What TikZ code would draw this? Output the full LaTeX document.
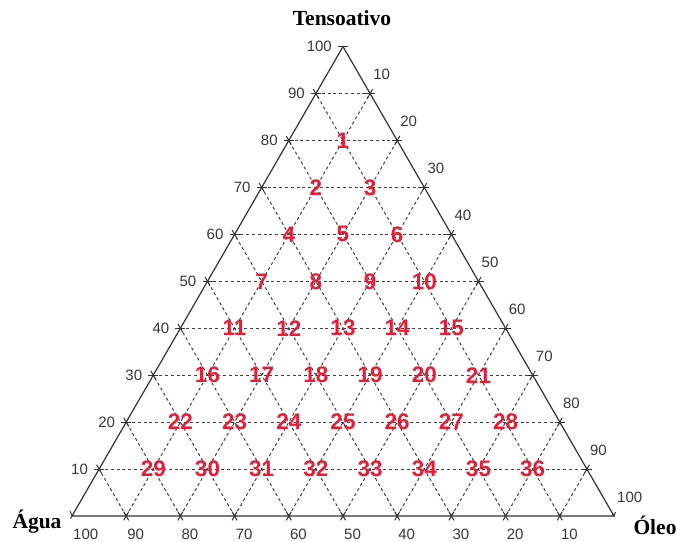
\documentclass[tikz,border=0pt]{standalone}
\usepackage{fontspec}
\setmainfont{Liberation Sans}
\newfontfamily\serifb{Liberation Serif}
\definecolor{numred}{RGB}{232,28,52}
\definecolor{axgray}{RGB}{55,55,55}
\begin{document}
\begin{tikzpicture}[x=1pt,y=-1pt,
  grid/.style={dash pattern=on 3pt off 2.8pt, line width=1pt, draw=black!75},
  side/.style={line width=1.2pt, draw=black!80},
  tk/.style={line width=1pt, draw=black!80},
  axlbl/.style={font=\fontsize{15}{17}\selectfont, text=axgray, inner sep=0pt},
  num/.style={font=\fontsize{22.5}{24}\selectfont\bfseries, text=numred, inner sep=0pt},
  vlbl/.style={font=\serifb\fontsize{21.5}{23}\selectfont\bfseries, inner sep=0pt}]
\useasboundingbox (0,0) rectangle (676,541);
% grid
\foreach \k in {10,20,...,90} {
  \pgfmathsetmacro\m{100-\k}
  \pgfmathsetmacro\Lx{72+5.42*(\k/2)}
  \pgfmathsetmacro\Ly{516-4.694*\k}
  \pgfmathsetmacro\Rx{72+5.42*(\m+\k/2)}
  \pgfmathsetmacro\Bx{72+5.42*\k}
  \pgfmathsetmacro\Cx{72+5.42*\m}
  \pgfmathsetmacro\Tx{72+5.42*(\k+\m/2)}
  \pgfmathsetmacro\Ty{516-4.694*\m}
  \pgfmathsetmacro\Ux{72+5.42*(\m/2)}
  \coordinate (gl) at (\Lx,\Ly);
  \coordinate (gr) at (\Rx,\Ly);
  \coordinate (gb) at (\Bx,516);
  \coordinate (gc) at (\Cx,516);
  \coordinate (gt) at (\Tx,\Ty);
  \coordinate (gu) at (\Ux,\Ty);
  \draw[grid] (gl) -- (gr);
  \draw[grid] (gb) -- (gt);
  \draw[grid] (gc) -- (gu);
  % ticks
  \draw[tk] (gl) ++(-5,0) -- ++(10,0);
  \draw[tk] (gl) ++(-2.5,-4.33) -- ++(5,8.66);
  \draw[tk] (gr) ++(-5,0) -- ++(10,0);
  \draw[tk] (gr) ++(-2.5,4.33) -- ++(5,-8.66);
  \draw[tk] (gb) ++(-2.5,4.33) -- ++(5,-8.66);
  \draw[tk] (gc) ++(-2.5,-4.33) -- ++(5,8.66);
}
% triangle
\coordinate (vA) at (72,516);
\coordinate (vO) at (614,516);
\coordinate (vT) at (343,46.6);
\draw[side] (vA) -- (vO) -- (vT) -- cycle;
\draw[tk] (vT) ++(-5,0) -- ++(10,0);
\draw[tk] (vA) ++(-2,-5) -- ++(2,5) -- ++(-1.5,2.6);
\draw[tk] (vO) ++(-1.5,-2.6) -- ++(1.5,2.6) -- ++(1.5,-4);
% axis labels
\foreach \k in {10,20,...,100} {
  \pgfmathsetmacro\m{100-\k}
  \pgfmathsetmacro\Lx{72+5.42*(\k/2)}
  \pgfmathsetmacro\Ly{516-4.694*\k}
  \pgfmathsetmacro\Rx{72+5.42*(\k+\m/2)}
  \pgfmathsetmacro\Ry{516-4.694*\m}
  \pgfmathsetmacro\Bx{72+5.42*\m}
  \node[axlbl, anchor=east, xshift=-11pt] (l\k) at (\Lx,\Ly) {\k};
  \node[axlbl, anchor=west, xshift=3pt, yshift=19pt] (r\k) at (\Rx,\Ry) {\k};
  \node[axlbl, anchor=west, xshift=1pt, yshift=-18pt] (b\k) at (\Bx,516) {\k};
}
% numbered points
\foreach \T/\s in {80/1,70/2,60/4,50/7,40/11,30/16,20/22,10/29} {
  \pgfmathtruncatemacro\n{(90-\T)/10}
  \foreach \i in {1,...,\n} {
    \pgfmathtruncatemacro\num{\s+\i-1}
    \pgfmathsetmacro\Nx{72+5.42*(10*\i+\T/2)}
    \pgfmathsetmacro\Ny{516-4.694*\T}
    \node[num] (p\num) at (\Nx,\Ny) {\num};
  }
}
% vertex labels
\node[vlbl] (tens) at (342,18) {Tensoativo};
\node[vlbl] (agua) at (37,522) {Água};
\node[vlbl] (oleo) at (655,525) {Óleo};
\end{tikzpicture}
\end{document}
